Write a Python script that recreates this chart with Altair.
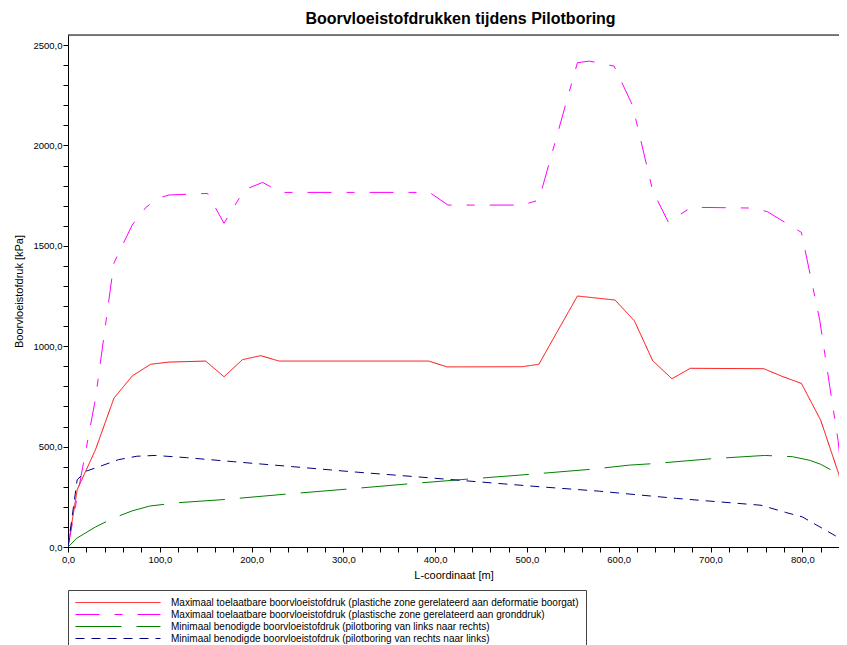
import altair as alt
import pandas as pd

# Series labels
series_names = [
    "Maximaal toelaatbare boorvloeistofdruk (plastiche zone gerelateerd aan deformatie boorgat)",
    "Maximaal toelaatbare boorvloeistofdruk (plastische zone gerelateerd aan gronddruk)",
    "Minimaal benodigde boorvloeistofdruk (pilotboring van links naar rechts)",
    "Minimaal benodigde boorvloeistofdruk (pilotboring van rechts naar links)",
]
series_colors = ["#FF0000", "#FF00FF", "#008000", "#000080"]
series_dashes = [[1, 0], [24, 15, 8, 15], [46, 15], [9, 7]]

# Maximaal (deformatie boorgat) - red
red_x = [0, 10, 30, 50, 70, 90, 110, 150, 170, 190, 210, 230, 393, 413, 495, 513,
         555, 596, 617, 637, 658, 678, 758, 779, 799, 820, 840, 846]
red_y = [0, 285, 485, 741, 852, 910, 921, 926, 848, 933, 953, 926, 926, 897, 898, 910,
         1250, 1230, 1127, 928, 838, 890, 888, 848, 815, 632, 360, 210]

# Maximaal (gronddruk) - magenta
mag_x = [0, 10, 30, 50, 70, 85, 98, 110, 152, 170, 192, 212, 232, 394, 414, 495, 513,
         555, 568, 595, 615, 637, 654, 679, 746, 762, 799, 819, 830, 839, 846]
mag_y = [0, 250, 740, 1414, 1604, 1692, 1737, 1753, 1761, 1612, 1778, 1816, 1766, 1766,
         1703, 1703, 1728, 2412, 2420, 2395, 2200, 1775, 1618, 1692, 1688, 1670, 1567,
         1130, 798, 530, 235]

# Minimaal (links naar rechts) - green
grn_x = [0, 10, 30, 50, 70, 89, 121, 172, 239, 306, 372, 438, 506, 572, 612, 637,
         702, 759, 789, 808, 820, 835, 840, 846]
grn_y = [0, 45, 100, 145, 180, 204, 221, 237, 264, 289, 315, 339, 363, 388, 408, 415,
         440, 456, 450, 432, 412, 375, 345, 185]

# Minimaal (rechts naar links) - navy
blu_x = [0, 3, 10, 20, 35, 55, 75, 95, 129, 180, 245, 314, 379, 446, 514, 579, 604,
         663, 755, 782, 800, 826, 846]
blu_y = [0, 100, 335, 378, 402, 435, 452, 456, 445, 425, 400, 373, 350, 325, 300, 278,
         267, 242, 208, 172, 150, 82, 30]

x_ticks = list(range(0, 841, 20))
y_ticks = list(range(0, 2501, 100))

rows = []
for name, xs, ys in zip(series_names, [red_x, mag_x, grn_x, blu_x], [red_y, mag_y, grn_y, blu_y]):
    for x, y in zip(xs, ys):
        rows.append({"serie": name, "x": x, "y": y})
df = pd.DataFrame(rows)

W, H = 771, 512
fmt = "replace(format(datum.value, '.1f'), '.', ',')"
legend_symbol = "M-1,0H16"

lines = alt.Chart(df).mark_line(strokeWidth=1, clip=True).encode(
    x=alt.X("x:Q", scale=alt.Scale(domain=[0, 840], nice=False, zero=False),
            axis=alt.Axis(values=x_ticks,
                          labelExpr=f"datum.value % 100 == 0 ? {fmt} : ''",
                          title="L-coordinaat [m]", grid=False, tickSize=5,
                          labelFontSize=9.5, labelPadding=2, titleFontSize=11,
                          titleFontWeight="normal", titlePadding=6,
                          labelFlush=False, labelOverlap=False,
                          domainColor="#000", tickColor="#000", labelColor="#000",
                          titleColor="#000", labelFont="Liberation Sans",
                          titleFont="Liberation Sans")),
    y=alt.Y("y:Q", scale=alt.Scale(domain=[0, 2550], nice=False),
            axis=alt.Axis(values=y_ticks,
                          labelExpr=f"datum.value % 500 == 0 ? {fmt} : ''",
                          title="Boorvloeistofdruk [kPa]", grid=False, tickSize=5,
                          labelFontSize=9.5, labelPadding=1, titleFontSize=11,
                          titleFontWeight="normal", titlePadding=8,
                          labelOverlap=False, labelFlush=False,
                          domainColor="#000", tickColor="#000", labelColor="#000",
                          titleColor="#000", labelFont="Liberation Sans",
                          titleFont="Liberation Sans")),
    color=alt.Color("serie:N", scale=alt.Scale(domain=series_names, range=series_colors),
                    legend=alt.Legend(title=None, orient="none", legendX=0, legendY=555,
                                      direction="vertical", symbolType=legend_symbol,
                                      symbolSize=100, symbolStrokeWidth=1,
                                      labelFontSize=10, labelLimit=700, labelOffset=85,
                                      labelFont="Liberation Sans", labelColor="#000",
                                      padding=7, rowPadding=1, strokeColor="#444",
                                      fillColor="white")),
    strokeDash=alt.StrokeDash("serie:N", scale=alt.Scale(domain=series_names, range=series_dashes),
                              legend=alt.Legend(title=None, orient="none", legendX=0, legendY=555,
                                                symbolType=legend_symbol, symbolSize=100)),
)

top_border = alt.Chart(pd.DataFrame({"a": [0]})).mark_rule(color="#000", strokeWidth=1).encode(
    x=alt.value(0), x2=alt.value(W), y=alt.value(0)
)

chart = alt.layer(lines, top_border).properties(
    width=W, height=H,
    title=alt.TitleParams("Boorvloeistofdrukken tijdens Pilotboring", fontSize=16,
                          fontWeight="bold", font="Liberation Sans", color="#000",
                          anchor="middle", offset=8, dx=7),
    autosize=alt.AutoSizeParams(type="none"),
    padding={"left": 60, "top": 27, "right": 0, "bottom": 110},
).configure_view(stroke=None).configure(background="white")

chart.save("out.html", embed_options={"renderer": "svg", "actions": False})
